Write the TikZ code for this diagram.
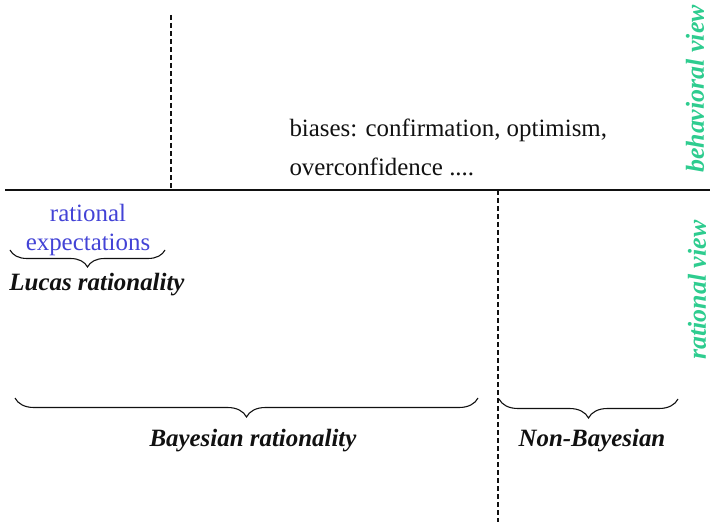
\documentclass[tikz,border=0pt]{standalone}
\usepackage{fontspec}
\setmainfont{Liberation Serif}
\usepackage{xcolor}
\definecolor{viewgreen}{HTML}{2ECC8F}
\definecolor{expblue}{HTML}{4343D6}
\definecolor{ink}{HTML}{111111}
\usetikzlibrary{positioning,decorations.pathreplacing}
\tikzset{
  every picture/.style={line width=1pt},
  plain/.style={font=\fontsize{25}{#1}\selectfont, text=ink, inner sep=0pt, align=center},
  plain/.default=29,
  bold/.style={font=\fontsize{25}{29}\selectfont\bfseries\itshape, text=ink, inner sep=0pt},
  view/.style={font=\fontsize{26}{30}\selectfont\bfseries\itshape, text=viewgreen, rotate=90, inner sep=0pt},
  curly/.style={decorate, decoration={brace, mirror, amplitude=#1}, draw=ink, line width=1.1pt},
  curly/.default=19bp,
  divider/.style={draw=ink, line width=1.5pt},
  splitline/.style={draw=ink, line width=1.1pt, dash pattern=on 5bp off 3bp},
}

\begin{document}
\begin{tikzpicture}[x=1bp, y=-1bp]
  \useasboundingbox (0,0) rectangle (712,527);

  % the two views
  \coordinate (hl) at (5,190);
  \coordinate (hr) at (710,190);
  \draw[divider] (hl) -- (hr);
  \node[view] (behav) at (695,89) {behavioral view};
  \node[view] (ratv) at (697,290) {rational view};

  % vertical splits
  \coordinate (s1top) at (171,15);
  \coordinate (s1bot) at (171,188);
  \coordinate (s2top) at (498,190);
  \coordinate (s2bot) at (498,522);
  \draw[splitline] (s1top) -- (s1bot);
  \draw[splitline] (s2top) -- (s2bot);

  \node[plain=39, align=left, anchor=west] (biases) at (289,147.5)
    {biases: confirmation, optimism,\\overconfidence ....};

  % Lucas
  \node[plain, text=expblue] (ratexp) at (88,230) {rational\\expectations};
  \coordinate (eL) at (10,250);
  \coordinate (eR) at (165,250);
  \draw[curly=17bp] (eL) -- (eR);
  \node[bold] (lucas) at (97,285) {Lucas rationality};

  % Bayesian / non-Bayesian
  \coordinate (bL) at (15,398);
  \coordinate (bR) at (478,398);
  \coordinate (nL) at (499,399);
  \coordinate (nR) at (678,399);
  \draw[curly] (bL) -- (bR);
  \draw[curly] (nL) -- (nR);
  \node[bold] (bayes) at (253,441) {Bayesian rationality};
  \node[bold] (nonbayes) at (592,441) {Non-Bayesian};
\end{tikzpicture}
\end{document}
